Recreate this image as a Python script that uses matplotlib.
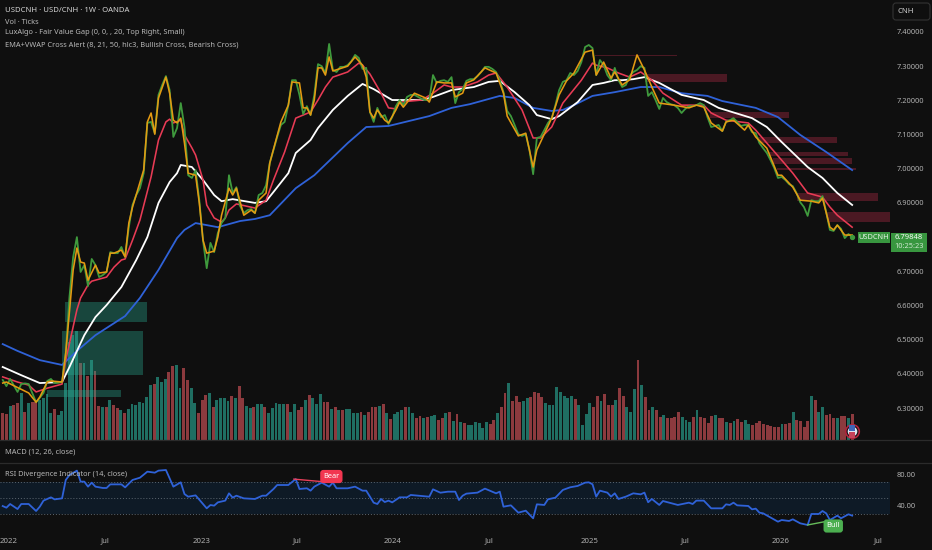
import numpy as np
import matplotlib
matplotlib.use("Agg")
import matplotlib.pyplot as plt
from matplotlib.patches import Rectangle, FancyBboxPatch
from matplotlib.transforms import IdentityTransform

plt.rcParams['font.family'] = ['Noto Sans', 'DejaVu Sans']

BG = '#0f0f0f'
W, H = 932, 550

close_vals = [
 6.382,6.364,6.385,6.366,6.347,6.370,6.372,6.370,6.343,6.317,
 6.330,6.344,6.379,6.385,6.373,6.374,6.376,6.461,6.625,6.742,
 6.800,6.698,6.718,6.657,6.736,6.718,6.683,6.689,6.698,6.756,
 6.753,6.753,6.771,6.742,6.829,6.894,6.923,6.943,6.987,7.134,
 7.137,7.104,7.216,7.245,7.271,7.230,7.093,7.119,7.192,7.122,
 6.981,6.973,6.996,6.908,6.791,6.709,6.783,6.756,6.812,6.841,
 6.856,6.981,6.929,6.946,6.891,6.870,6.879,6.882,6.870,6.923,
 6.929,6.952,7.017,7.055,7.093,7.128,7.137,7.186,7.259,7.259,
 7.216,7.160,7.183,7.157,7.216,7.306,7.300,7.280,7.365,7.289,
 7.283,7.298,7.298,7.303,7.315,7.333,7.324,7.292,7.295,7.166,
 7.137,7.178,7.151,7.157,7.131,7.151,7.183,7.201,7.186,7.210,
 7.216,7.216,7.210,7.204,7.201,7.201,7.274,7.251,7.257,7.259,
 7.254,7.268,7.192,7.224,7.233,7.257,7.262,7.262,7.271,7.283,
 7.298,7.298,7.292,7.283,7.259,7.224,7.169,7.154,7.128,7.101,
 7.096,7.101,7.055,6.984,7.090,7.093,7.113,7.134,7.148,7.186,
 7.230,7.254,7.259,7.280,7.274,7.286,7.312,7.356,7.362,7.353,
 7.274,7.318,7.303,7.274,7.259,7.295,7.259,7.239,7.245,7.271,
 7.283,7.289,7.300,7.295,7.213,7.224,7.201,7.175,7.207,7.195,
 7.189,7.186,7.178,7.163,7.175,7.183,7.183,7.186,7.192,7.186,
 7.151,7.122,7.125,7.128,7.110,7.137,7.142,7.148,7.137,7.125,
 7.128,7.128,7.107,7.104,7.075,7.060,7.046,7.025,7.002,6.973,
 6.976,6.967,6.955,6.949,6.929,6.902,6.888,6.862,6.908,6.905,
 6.905,6.920,6.873,6.821,6.818,6.835,6.824,6.797,6.809,6.800]

ema8_weeks = [0,1,7,9,10,12,13,16,17,19,20,21,22,23,25,26,28,29,30,32,33,34,35,38,39,40,41,42,44,45,46,47,48,49,50,52,53,54,55,57,58,59,61,62,63,65,67,68,69,71,72,75,77,78,80,81,82,83,84,85,86,87,88,89,93,95,97,98,99,100,101,103,104,106,107,108,110,111,114,115,117,119,121,122,124,125,127,130,133,135,136,139,141,143,144,145,148,150,152,154,157,159,160,162,164,165,167,169,171,173,175,177,181,185,187,189,191,194,195,197,200,201,203,206,209,210,213,215,218,220,221,223,224,225,227,229]
ema8_vals = [6.373,6.376,6.344,6.317,6.332,6.376,6.379,6.376,6.461,6.704,6.768,6.727,6.724,6.674,6.718,6.695,6.698,6.753,6.753,6.762,6.742,6.841,6.888,6.996,7.137,7.163,7.101,7.207,7.268,7.221,7.142,7.134,7.148,7.075,6.987,6.981,6.900,6.791,6.753,6.759,6.800,6.864,6.943,6.923,6.943,6.864,6.879,6.870,6.908,6.929,7.017,7.137,7.186,7.254,7.251,7.178,7.178,7.157,7.201,7.295,7.295,7.274,7.327,7.286,7.300,7.327,7.303,7.268,7.166,7.148,7.172,7.142,7.134,7.172,7.195,7.180,7.207,7.221,7.207,7.195,7.254,7.251,7.251,7.210,7.221,7.251,7.260,7.295,7.280,7.221,7.154,7.096,7.104,7.005,7.055,7.078,7.148,7.216,7.257,7.280,7.341,7.347,7.274,7.312,7.265,7.283,7.245,7.260,7.333,7.289,7.239,7.192,7.186,7.178,7.186,7.180,7.134,7.110,7.137,7.142,7.113,7.128,7.093,7.060,6.981,6.981,6.946,6.908,6.905,6.900,6.914,6.829,6.821,6.835,6.806,6.806]

ema21_weeks = [0,4,7,9,12,16,17,20,21,23,24,28,30,32,33,35,37,40,42,44,45,46,48,49,51,52,54,55,57,59,60,61,63,68,71,73,76,79,81,83,85,87,89,93,96,97,99,102,104,106,107,113,116,119,121,124,128,131,133,136,140,143,145,148,151,156,159,160,163,166,169,172,175,178,183,189,191,195,201,203,206,210,213,217,221,223,225,229]
ema21_vals = [6.391,6.376,6.367,6.347,6.358,6.370,6.440,6.587,6.622,6.660,6.671,6.683,6.712,6.733,6.736,6.791,6.850,6.976,7.084,7.137,7.145,7.134,7.142,7.099,7.061,7.040,6.967,6.894,6.856,6.844,6.856,6.879,6.897,6.885,6.908,6.967,7.049,7.148,7.157,7.166,7.201,7.239,7.268,7.283,7.309,7.303,7.277,7.221,7.178,7.175,7.195,7.201,7.221,7.245,7.239,7.239,7.254,7.274,7.280,7.239,7.172,7.090,7.090,7.122,7.192,7.259,7.309,7.303,7.295,7.280,7.268,7.283,7.259,7.221,7.186,7.186,7.163,7.142,7.134,7.113,7.075,7.025,6.987,6.929,6.917,6.888,6.864,6.829]

ema50_weeks = [0,5,10,16,18,22,25,28,32,36,39,42,45,47,48,51,54,57,59,62,68,71,73,77,79,83,85,89,93,97,100,105,113,116,121,127,131,134,138,142,144,148,150,155,159,162,165,167,170,173,177,183,189,193,202,206,210,217,221,225,229]
ema50_vals = [6.420,6.396,6.373,6.376,6.420,6.513,6.566,6.601,6.654,6.733,6.800,6.900,6.961,6.987,7.011,7.005,6.967,6.923,6.905,6.911,6.900,6.905,6.932,6.987,7.046,7.084,7.119,7.172,7.213,7.248,7.233,7.201,7.201,7.210,7.230,7.239,7.254,7.257,7.224,7.186,7.157,7.145,7.154,7.195,7.245,7.251,7.259,7.259,7.262,7.268,7.251,7.216,7.201,7.178,7.148,7.122,7.078,7.005,6.973,6.929,6.894]

vwap_weeks = [0,4,10,16,20,25,33,37,42,47,49,52,58,64,68,72,79,84,93,98,104,115,121,126,134,138,143,148,151,154,159,165,172,177,183,190,194,203,209,215,222,229]
vwap_vals = [6.487,6.467,6.440,6.426,6.467,6.513,6.569,6.622,6.704,6.797,6.821,6.841,6.829,6.847,6.853,6.864,6.943,6.981,7.075,7.122,7.125,7.154,7.178,7.189,7.213,7.207,7.178,7.169,7.172,7.186,7.213,7.224,7.239,7.239,7.221,7.213,7.198,7.178,7.151,7.099,7.049,6.996]

volume = [
 27,26,34,35,37,47,28,37,38,38,40,42,46,27,31,25,29,57,98,105,
 109,77,77,64,80,69,34,33,33,40,35,32,30,27,31,36,35,38,37,43,
 55,56,63,58,61,68,74,75,52,72,60,52,37,27,40,45,47,33,40,42,
 42,39,44,42,54,42,34,32,33,36,36,33,27,32,37,36,36,36,28,36,
 30,33,40,45,42,36,46,38,38,31,33,30,30,31,31,27,27,28,25,28,
 33,33,34,36,27,21,26,28,30,33,33,27,22,24,22,23,24,25,20,22,
 27,28,19,26,18,17,15,15,18,17,12,18,16,20,27,33,47,57,39,44,
 38,39,42,43,48,47,43,37,35,35,53,48,44,42,44,41,35,15,26,37,
 33,44,39,46,35,35,40,52,44,33,28,51,80,55,43,30,33,30,23,25,
 22,22,23,28,23,20,18,23,30,23,22,17,24,25,22,22,18,17,19,21,
 18,20,16,15,17,19,16,15,14,13,13,16,16,17,28,20,19,13,19,44,
 40,28,33,25,26,22,22,24,24,22,26]
vol_up = [
 0,0,1,0,0,1,0,1,0,0, 1,1,1,1,0,1,1,1,1,1,
 1,0,1,0,1,0,0,1,0,1, 0,0,1,0,1,1,1,1,1,1,
 1,0,1,1,1,0,0,1,1,0, 0,1,1,0,0,0,1,0,1,1,
 1,1,0,1,0,0,1,1,0,1, 1,0,1,1,1,1,1,0,1,1,
 0,0,1,0,1,1,1,0,0,1, 0,1,0,1,1,1,1,0,1,0,
 0,0,1,0,1,0,1,1,1,0, 1,1,0,0,1,0,1,1,0,0,
 1,0,1,0,1,0,1,1,1,1, 1,1,0,0,1,0,0,1,0,0,
 0,1,1,0,0,0,0,1,1,1, 1,1,1,1,1,0,1,1,1,1,
 0,0,1,0,0,0,1,0,0,1, 1,1,0,1,0,0,1,0,0,1,
 0,0,0,0,1,1,1,0,1,0, 0,0,0,1,0,0,1,0,1,0,
 0,1,1,0,0,0,0,0,0,0, 0,1,0,0,1,0,0,0,0,1,
 0,1,1,0,0,0,1,0,0,1, 0]

rsi_weeks = [0,1,2,4,5,7,9,10,11,13,14,16,17,18,20,21,22,23,24,25,27,28,29,32,33,35,37,39,41,42,44,46,48,49,50,52,55,56,57,58,60,61,62,63,65,68,70,71,73,74,77,79,80,82,83,84,86,88,89,90,93,95,97,98,100,101,102,103,104,105,107,109,110,112,115,116,118,120,122,123,124,125,128,130,133,134,135,137,139,141,143,144,146,147,149,151,153,155,157,158,159,160,161,163,164,165,166,168,170,172,173,174,175,177,178,182,185,186,187,189,191,194,195,196,197,198,201,202,203,204,205,209,210,212,213,215,217,218,220,221,222,223,225,226,228,229]
rsi_vals = [39.7,37.6,42.3,35.9,42.3,42.3,33.4,38.9,46.6,50.8,48.2,49.5,72.9,79.2,84.8,70.8,70.8,64.4,69.5,64.4,62.7,62.7,67.3,67.3,63.5,72.9,75.8,83.5,82.2,84.8,85.6,64.4,69.9,55.0,51.6,53.3,36.8,41.0,40.2,44.4,46.6,55.9,50.4,52.9,49.5,48.7,52.9,52.9,61.4,66.5,66.5,74.1,61.4,62.3,59.3,64.4,69.5,64.4,69.5,62.3,62.3,64.4,59.3,59.3,44.0,42.3,48.7,44.8,46.6,44.4,50.8,50.8,53.8,52.9,51.6,61.0,56.7,58.0,58.0,47.4,52.9,55.5,56.8,61.9,55.9,58.0,38.9,40.6,31.3,33.8,24.1,41.9,41.1,48.3,50.4,60.2,63.6,65.3,69.5,69.9,67.4,51.7,59.3,56.8,51.7,55.9,48.7,51.7,55.9,54.6,56.8,44.5,48.7,41.1,46.1,41.1,44.0,42.3,46.6,46.6,36.8,36.8,41.9,41.1,44.0,40.6,39.8,35.5,36.4,31.3,30.4,19.8,21.9,20.7,22.8,17.7,15.6,29.6,29.6,33.4,30.4,21.9,27.5,24.1,29.2,27.5]

fvg_up_start = [16.8, 16.0, 12.0]
fvg_up_end = [38.9, 37.8, 31.9]
fvg_up_top = [6.610, 6.525, 6.352]
fvg_up_bot = [6.551, 6.396, 6.332]

fvg_dn_start = [173.2, 190.7, 203.6, 206.6, 207.7, 208.8, 214.2, 222.2, 159.7]
fvg_dn_end = [195.3, 212.0, 225.0, 227.9, 229.0, 230.0, 236.0, 239.2, 181.8]
fvg_dn_top = [7.277, 7.166, 7.093, 7.049, 7.031, 7.002, 6.929, 6.873, 7.334]
fvg_dn_bot = [7.254, 7.148, 7.075, 7.037, 7.014, 6.996, 6.905, 6.844, 7.330]

price_ticks = [6.30, 6.40, 6.50, 6.60, 6.70, 6.90, 7.00, 7.10, 7.20, 7.30, 7.40]
date_weeks = [1.7, 27.6, 53.7, 79.3, 105.2, 131.1, 158.1, 184.0, 209.8, 236.0]
date_labels = ['2022', 'Jul', '2023', 'Jul', '2024', 'Jul', '2025', 'Jul', '2026', 'Jul']
rsi_ticks = [40, 80]
rsi_levels = [30, 50, 70]
bear_w, bear_v = [78.5, 88.0], [74.0, 70.0]
bull_w, bull_v = [217.0, 222.5], [15.6, 20.6]
last_price = 6.79848

assert len(close_vals) == 230 and len(volume) == 231 and len(vol_up) == 231
assert len(ema8_weeks) == len(ema8_vals) and len(ema21_weeks) == len(ema21_vals)
assert len(ema50_weeks) == len(ema50_vals) and len(vwap_weeks) == len(vwap_vals)
assert len(rsi_weeks) == len(rsi_vals)

fig = plt.figure(figsize=(W / 100, H / 100), dpi=100, facecolor=BG)
XLIM = (-0.728, 239.2)
AX_W = 890 / W
TICK = '#b0b0b0'

def box(top_px, bottom_px):
    return [0, 1 - bottom_px / H, AX_W, (bottom_px - top_px) / H]

# volume
axv = fig.add_axes(box(0, 440), facecolor=BG, zorder=1)
axv.set_xlim(*XLIM)
axv.set_ylim(0, 440)
vol_x = np.linspace(0, 229, len(volume))
axv.bar(vol_x, volume, width=0.78,
        color=['#1f6e62' if u else '#8c3a3e' for u in vol_up], linewidth=0)
axv.axis('off')

# price
ax = fig.add_axes(box(0, 440), zorder=2)
ax.patch.set_alpha(0)
ax.set_xlim(*XLIM)
ax.set_ylim(6.2064, 7.4936)
for s in ax.spines.values():
    s.set_visible(False)
ax.set_xticks([])
ax.yaxis.tick_right()
ax.set_yticks(price_ticks)
ax.set_yticklabels([f'{p:.5f}' for p in price_ticks])
ax.tick_params(axis='y', length=0, pad=5, labelsize=5.4, labelcolor=TICK)

for s_, e_, t_, b_ in zip(fvg_up_start, fvg_up_end, fvg_up_top, fvg_up_bot):
    ax.add_patch(Rectangle((s_, b_), e_ - s_, t_ - b_, fc='#2aa890', ec='none', alpha=0.36, zorder=2))
for s_, e_, t_, b_ in zip(fvg_dn_start, fvg_dn_end, fvg_dn_top, fvg_dn_bot):
    ax.add_patch(Rectangle((s_, b_), e_ - s_, t_ - b_, fc='#a62a42', ec='none', alpha=0.40, zorder=2))

ax.plot(vwap_weeks, vwap_vals, color='#2f62d8', lw=1.3, zorder=3, solid_joinstyle='round')
ax.plot(ema50_weeks, ema50_vals, color='#ffffff', lw=1.3, zorder=3.1, solid_joinstyle='round')
ax.plot(ema21_weeks, ema21_vals, color='#e83b55', lw=1.15, zorder=3.2, solid_joinstyle='round')
ax.plot(np.arange(len(close_vals)), close_vals, color='#3f9a3d', lw=1.3, zorder=3.3, solid_joinstyle='round')
ax.plot(ema8_weeks, ema8_vals, color='#e39a12', lw=1.15, zorder=3.4, solid_joinstyle='round')
ax.scatter([229], [close_vals[-1]], s=8, color='#3f9a3d', zorder=3.5)

# last-price badges
ax.add_patch(Rectangle((230.6, last_price - 0.015), 8.6, 0.03, fc='#38963f', ec='none', zorder=6))
ax.text(234.9, last_price, 'USDCNH', ha='center', va='center', fontsize=5.3,
        color='#e8f5e8', zorder=7)
fig.patches.append(Rectangle((891 / W, 1 - 252 / H), 36 / W, 19 / H, transform=fig.transFigure,
                             fc='#38963f', ec='none', zorder=6))
fig.text(909 / W, 1 - 237.5 / H, f'{last_price:.5f}', ha='center', va='center', fontsize=5.5,
         color='#f2f8f2', zorder=7)
fig.text(909 / W, 1 - 247 / H, '10:25:23', ha='center', va='center', fontsize=5.3,
         color='#cfe6cf', zorder=7)

# US flag event marker
axv.scatter([229], [9], s=95, color='#111111', edgecolors='#b0223c', linewidths=1.2, zorder=5)
axv.scatter([229], [9], s=48, color='#dfe4ee', linewidths=0, zorder=6)
axv.scatter([229], [5.5], s=14, marker='s', color='#c8425a', linewidths=0, zorder=7)
axv.scatter([229], [12], s=20, marker='s', color='#3f66b8', linewidths=0, zorder=7)

# RSI
axr = fig.add_axes(box(462.7, 530), facecolor=BG, zorder=2)
axr.set_xlim(*XLIM)
axr.set_ylim(9.2, 94.9)
for s in axr.spines.values():
    s.set_visible(False)
axr.axhspan(min(rsi_levels), max(rsi_levels), color='#0e1a26', lw=0, zorder=1)
for lv in rsi_levels:
    axr.axhline(lv, color='#5c6670', lw=0.7, ls=(0, (1, 2)), zorder=2)
axr.plot(rsi_weeks, rsi_vals, color='#2f62d8', lw=1.3, zorder=3, solid_joinstyle='round')
axr.plot(bear_w, bear_v, color='#e8405a', lw=1.0, zorder=3)
axr.plot(bull_w, bull_v, color='#66bb5a', lw=1.0, zorder=3)
axr.text(88.6, 77.3, 'Bear', ha='center', va='center', fontsize=5.3, color='white', zorder=5,
         bbox=dict(boxstyle='round,pad=0.42', fc='#f23650', ec='none'))
axr.text(223.9, 14.3, 'Bull', ha='center', va='center', fontsize=5.3, color='white', zorder=5,
         bbox=dict(boxstyle='round,pad=0.42', fc='#4caf50', ec='none'))
axr.yaxis.tick_right()
axr.set_yticks(rsi_ticks)
axr.set_yticklabels([f'{v:.2f}' for v in rsi_ticks])
axr.tick_params(axis='y', length=0, pad=5, labelsize=5.4, labelcolor=TICK)
axr.set_xticks(date_weeks)
axr.set_xticklabels(date_labels)
axr.tick_params(axis='x', length=0, pad=5.5, labelsize=5.6, labelcolor=TICK)

# pane separators
for y_px in (440, 462.7):
    fig.add_artist(plt.Line2D([0, 1], [1 - y_px / H] * 2, color='#2b2b2b', lw=0.9, zorder=10))

# legends
legend_lines = [('USDCNH · USD/CNH · 1W · OANDA', 11, '#d4d4d4', 5.55),
                ('Vol · Ticks', 22, '#b8b8b8', 5.35),
                ('LuxAlgo - Fair Value Gap (0, 0, , 20, Top Right, Small)', 33, '#b8b8b8', 5.35),
                ('EMA+VWAP Cross Alert (8, 21, 50, hlc3, Bullish Cross, Bearish Cross)', 44.5, '#b8b8b8', 5.35),
                ('MACD (12, 26, close)', 452, '#b8b8b8', 5.35),
                ('RSI Divergence Indicator (14, close)', 474, '#b8b8b8', 5.35)]
for txt, y_px, col, fs in legend_lines:
    fig.text(5 / W, 1 - y_px / H, txt, ha='left', va='center', fontsize=fs, color=col, zorder=8)

fig.add_artist(FancyBboxPatch((896, H - 17), 31, 11, boxstyle='round,pad=3,rounding_size=3',
                              fc=BG, ec='#333333', lw=0.8, transform=IdentityTransform(), zorder=8))
fig.text(905.5 / W, 1 - 11.3 / H, 'CNH', ha='center', va='center', fontsize=5.6, color='#d0d0d0', zorder=9)

fig.savefig('out.png', dpi=100, facecolor=BG)
